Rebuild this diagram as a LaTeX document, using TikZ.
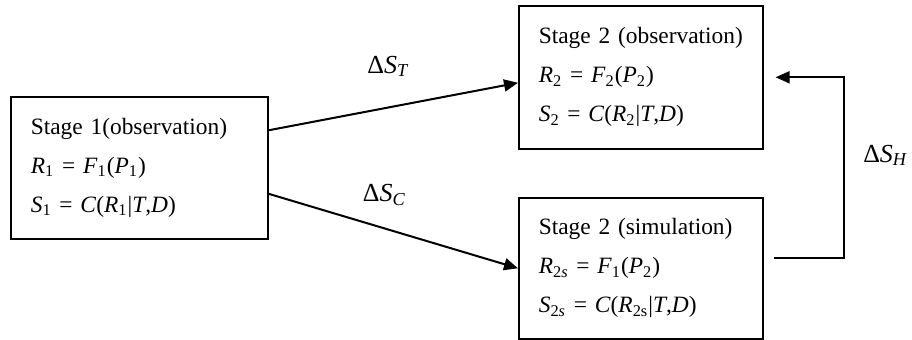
\documentclass[tikz,border=0pt]{standalone}
\usepackage{fontspec}
\setmainfont{Liberation Serif}
\usetikzlibrary{arrows.meta}

\newcommand{\vr}[2]{\textit{#1}\textsubscript{#2}}

\begin{document}
\begin{tikzpicture}[x=0.5pt, y=-0.5pt,
	stagebox/.style={draw, line width=0.8pt, inner xsep=10pt, inner ysep=0pt, align=left, anchor=north west, font=\fontsize{11.7}{19.5}\selectfont},
	flow/.style={line width=1pt, -{Triangle[length=7pt,width=6pt]}},
	delta/.style={font=\fontsize{13}{15}\selectfont}]
	\useasboundingbox (0,0) rectangle (912,340);

	% stage boxes
	\node[stagebox, text width=108.5pt, minimum height=71pt] (s1) at (10,96)
		{\mbox{Stage 1(observation)}\\
		 \vr{R}{1} = \vr{F}{1}(\vr{P}{1})\\
		 \vr{S}{1} = \textit{C}(\vr{R}{1}|\textit{T},\textit{D})};
	\node[stagebox, text width=102pt, minimum height=71.5pt] (o2) at (518,5)
		{\mbox{Stage 2 (observation)}\\
		 \vr{R}{2} = \vr{F}{2}(\vr{P}{2})\\
		 \vr{S}{2} = \textit{C}(\vr{R}{2}|\textit{T},\textit{D})};
	\node[stagebox, text width=102pt, minimum height=70.5pt] (s2) at (518,197)
		{\mbox{Stage 2 (simulation)}\\
		 \vr{R}{2\textit{s}} = \vr{F}{1}(\vr{P}{2})\\
		 \vr{S}{2\textit{s}} = \textit{C}(\vr{R}{2s}|\textit{T},\textit{D})};

	% transitions
	\draw[flow] ([yshift=18.75pt]s1.east) -- node[delta, midway, above=11pt, xshift=-2.5pt]
		{Δ\textit{S}\textsubscript{\textit{T}}} ([yshift=-2.75pt]o2.west);
	\draw[flow] ([yshift=-13pt]s1.east) -- node[delta, midway, above=9pt, xshift=-4.5pt]
		{Δ\textit{S}\textsubscript{\textit{C}}} (s2.west);
	\draw[flow] ([shift={(5pt,5.25pt)}]s2.east) -- ++(70,0) |- node[delta, pos=0.25, right=6pt, yshift=6pt]
		{Δ\textit{S}\textsubscript{\textit{H}}} ([xshift=6pt]o2.east);
\end{tikzpicture}
\end{document}
